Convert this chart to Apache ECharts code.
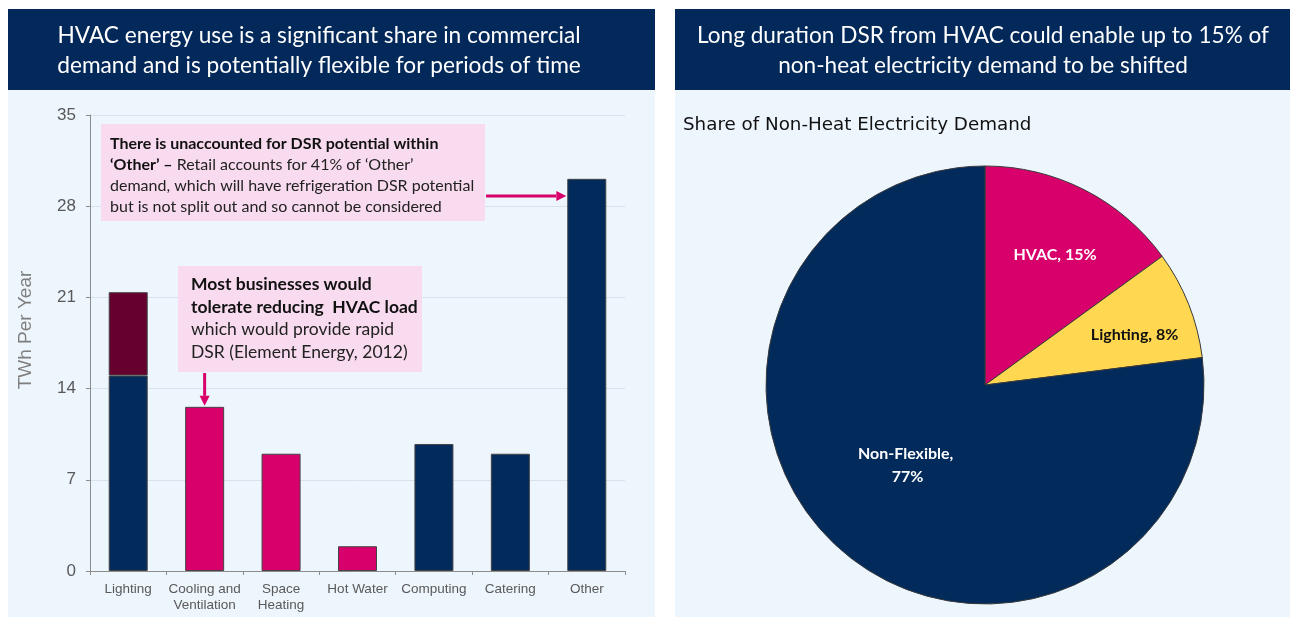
<!DOCTYPE html>
<html><head><meta charset="utf-8">
<script src="https://cdn.jsdelivr.net/npm/echarts@6/dist/echarts.min.js"></script>
<style>html,body{margin:0;padding:0;background:#fff}#c{width:1293px;height:617px}</style>
</head><body><div id="c"></div>
<script>
// ---- data ----
const categories = ['Lighting', 'Cooling and\nVentilation', 'Space\nHeating', 'Hot Water', 'Computing', 'Catering', 'Other'];
const baseValues = [15.0, 12.6, 9.0, 1.9, 9.75, 9.0, 30.1];
const flexibleLightingValues = [6.4, '-', '-', '-', '-', '-', '-'];
const categoryGroup = ['nonHvac', 'hvac', 'hvac', 'hvac', 'nonHvac', 'nonHvac', 'nonHvac'];
const yTicks = [0, 7, 14, 21, 28, 35];
const pieNames = ['HVAC', 'Lighting', 'Non-Flexible'];
const pieValues = [15, 8, 77];
const leftHeader = 'HVAC energy use is a significant share in commercial\ndemand and is potentially flexible for periods of time';
const rightHeader = 'Long duration DSR from HVAC could enable up to 15% of\nnon-heat electricity demand to be shifted';
const pieTitle = 'Share of Non-Heat Electricity Demand';
const yAxisName = 'TWh Per Year';

// ---- styles ----
const NAVY = '#022b5b', PINK = '#d8006b', MAROON = '#66002f', YELLOW = '#ffd750';
const PANEL = '#edf5fd', BOXPINK = '#f9dbef';
const groupColor = { hvac: PINK, nonHvac: NAVY };
const bodyFont = 'Lato, "Open Sans", sans-serif';
const axisFont = '"Liberation Sans", Arial, sans-serif';

const chart = echarts.init(document.getElementById('c'), null, { renderer: 'canvas' });

const option = {
  backgroundColor: '#ffffff',
  animation: false,
  grid: { left: 90, right: 668, top: 115, bottom: 46, containLabel: false },
  xAxis: {
    type: 'category',
    data: categories,
    axisLine: { lineStyle: { color: '#8c8c8c', width: 1 } },
    axisTick: { show: true, length: 4, lineStyle: { color: '#8c8c8c' } },
    axisLabel: { color: '#595959', fontFamily: axisFont, fontSize: 13.5, lineHeight: 16, margin: 10, interval: 0 }
  },
  yAxis: {
    type: 'value',
    min: yTicks[0], max: yTicks[yTicks.length - 1], interval: yTicks[1] - yTicks[0],
    name: yAxisName, nameLocation: 'middle', nameGap: 55, nameRotate: 90,
    nameTextStyle: { color: '#7f7f7f', fontFamily: axisFont, fontSize: 19, padding: [0, 0, 0, 26] },
    axisLine: { show: true, lineStyle: { color: '#8c8c8c' } },
    axisTick: { show: true, length: 4, lineStyle: { color: '#8c8c8c' } },
    axisLabel: { color: '#595959', fontFamily: axisFont, fontSize: 17, margin: 14 },
    splitLine: { lineStyle: { color: '#d8e1ec', width: 1 } }
  },
  series: [
    {
      type: 'bar', stack: 'total', barWidth: 39,
      data: baseValues.map((v, i) => ({ value: v, itemStyle: { color: groupColor[categoryGroup[i]] } })),
      itemStyle: { borderColor: '#444', borderWidth: 1 }
    },
    {
      type: 'bar', stack: 'total', barWidth: 39,
      data: flexibleLightingValues,
      itemStyle: { color: MAROON, borderColor: '#444', borderWidth: 1 }
    },
    {
      type: 'pie',
      center: [985, 385], radius: 219,
      startAngle: 90, clockwise: true,
      itemStyle: { borderColor: '#3a3a3a', borderWidth: 1 },
      label: { position: 'inside', fontFamily: bodyFont, fontWeight: 'bold', fontSize: 16, lineHeight: 23,
               formatter: p => p.name + ', ' + (p.name === 'Non-Flexible' ? '\n' : '') + p.value + '%' },
      labelLine: { show: false },
      data: pieNames.map((n, i) => ({
        name: n, value: pieValues[i],
        itemStyle: { color: [PINK, YELLOW, NAVY][i] },
        label: { color: i === 1 ? '#111' : '#fff', offset: [[19, -30], [45, -9], [-3, -4]][i] }
      }))
    }
  ]
};
chart.setOption(option);

function px(cat, val) { return chart.convertToPixel({ xAxisIndex: 0, yAxisIndex: 0 }, [cat, val]); }

// annotation geometry computed from the axes
const coolTop = px(categories[1], baseValues[1]);
const otherTop = px(categories[6], baseValues[6]);
const otherLeft = otherTop[0] - 39 / 2 - 1;
const arrow1Y = 196;
const box2Bottom = 372;

function arrow(x1, y1, x2, y2) {
  const dx = x2 - x1, dy = y2 - y1, L = Math.hypot(dx, dy), ux = dx / L, uy = dy / L;
  const hl = 10, hw = 5;
  const bx = x2 - ux * hl, by = y2 - uy * hl;
  return [
    { type: 'line', shape: { x1, y1, x2: bx, y2: by }, style: { stroke: PINK, lineWidth: 3 }, z: 100 },
    { type: 'polygon', shape: { points: [[x2, y2], [bx - uy * hw, by + ux * hw], [bx + uy * hw, by - ux * hw]] }, style: { fill: PINK }, z: 100 }
  ];
}

const graphics = [
  { type: 'rect', shape: { x: 8, y: 9, width: 647, height: 608 }, style: { fill: PANEL }, z: -10, silent: true },
  { type: 'rect', shape: { x: 675, y: 9, width: 615, height: 608 }, style: { fill: PANEL }, z: -10, silent: true },
  { type: 'rect', shape: { x: 8, y: 9, width: 647, height: 81 }, style: { fill: '#03295a' }, z: 50 },
  { type: 'rect', shape: { x: 675, y: 9, width: 615, height: 81 }, style: { fill: '#03295a' }, z: 50 },
  { type: 'text', x: 319, y: 51, style: { text: leftHeader, fill: '#fff', font: '22.7px ' + bodyFont, align: 'center', verticalAlign: 'middle', lineHeight: 30 }, z: 51 },
  { type: 'text', x: 983, y: 51, style: { text: rightHeader, fill: '#fff', font: '22.6px ' + bodyFont, align: 'center', verticalAlign: 'middle', lineHeight: 30 }, z: 51 },
  { type: 'text', x: 683, y: 125, style: { text: pieTitle, fill: '#111', font: '18.3px "DejaVu Sans", sans-serif', align: 'left', verticalAlign: 'middle' }, z: 51 },
  { type: 'rect', shape: { x: 101, y: 124, width: 384, height: 97 }, style: { fill: BOXPINK }, z: 60 },
  { type: 'text', x: 110, y: 133, z: 61, style: {
      text: '{b|There is unaccounted for DSR potential within}\n{b|‘Other’ –}{n| Retail accounts for 41% of ‘Other’}\n{n|demand, which will have refrigeration DSR potential}\n{n|but is not split out and so cannot be considered}',
      rich: { b: { fontFamily: bodyFont, fontSize: 16, fontWeight: 'bold', fill: '#111', lineHeight: 21 },
              n: { fontFamily: bodyFont, fontSize: 16, fill: '#222', lineHeight: 21 } },
      verticalAlign: 'top' } },
  { type: 'rect', shape: { x: 178, y: 266, width: 244, height: box2Bottom - 266 }, style: { fill: BOXPINK }, z: 60 },
  { type: 'text', x: 191, y: 273, z: 61, style: {
      text: '{b|Most businesses would}\n{b|tolerate reducing  HVAC load}\n{n|which would provide rapid}\n{n|DSR (Element Energy, 2012)}',
      rich: { b: { fontFamily: bodyFont, fontSize: 17.5, fontWeight: 'bold', fill: '#111', lineHeight: 22.7 },
              n: { fontFamily: bodyFont, fontSize: 17.5, fill: '#222', lineHeight: 22.7 } },
      verticalAlign: 'top' } },
  ...arrow(486, arrow1Y, otherLeft, arrow1Y),
  ...arrow(coolTop[0], box2Bottom + 1, coolTop[0], coolTop[1] - 1)
];
chart.setOption({ graphic: graphics });
</script>
</body></html>
